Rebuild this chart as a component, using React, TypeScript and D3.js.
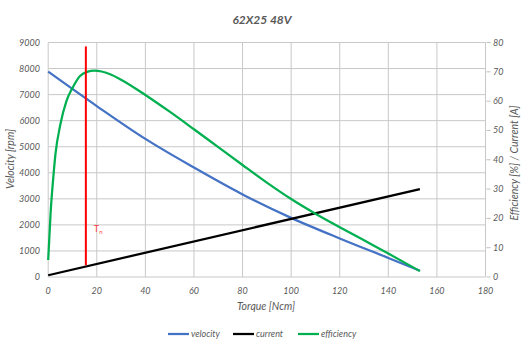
import React from "react";
import * as d3 from "d3";

const title = "62X25 48V";
const xTicks = [0, 20, 40, 60, 80, 100, 120, 140, 160, 180];
const yLeftTicks = [0, 1000, 2000, 3000, 4000, 5000, 6000, 7000, 8000, 9000];
const yRightTicks = [0, 10, 20, 30, 40, 50, 60, 70, 80];

const velocityTorque = [0, 20, 40, 60, 80, 100, 120, 140, 153];
const velocityValues = [7880, 6560, 5300, 4200, 3170, 2270, 1480, 730, 240];

const currentTorque = [0, 153];
const currentValues = [0.6, 30];

const efficiencyTorque = [0, 1, 2, 3, 5, 7.5, 10, 13, 16, 19, 22, 26, 30, 40, 50, 60, 70, 80, 90, 100, 110, 120, 130, 140, 153];
const efficiencyValues = [5.8, 22, 33, 42, 52, 60, 64.5, 68.5, 70, 70.4, 70.1, 69, 67.3, 62.1, 56.4, 50.4, 44.3, 38.2, 32.2, 26.6, 21.6, 17.0, 12.5, 8.0, 2.0];

const nominalTorque = 15.5;
const nominalRange = [450, 8850];

const legendNames = ["velocity", "current", "efficiency"];
const colors = { velocity: "#4472C4", current: "#000000", efficiency: "#00B050", nominal: "#FF0000" };

const W = 521, H = 340;
const left = 48.2, right = 485.5, top = 42.5, bottom = 277;
const textColor = "#595959";
const font = "Lato, 'Open Sans', sans-serif";

export default function App() {
  const x = d3.scaleLinear().domain([0, 180]).range([left, right]);
  const yL = d3.scaleLinear().domain([0, 9000]).range([bottom, top]);
  const yR = d3.scaleLinear().domain([0, 80]).range([bottom, top]);

  const lineL = d3.line<[number, number]>().x(d => x(d[0])).y(d => yL(d[1])).curve(d3.curveMonotoneX);
  const lineR = d3.line<[number, number]>().x(d => x(d[0])).y(d => yR(d[1])).curve(d3.curveMonotoneX);

  const vel = velocityTorque.map((t, i) => [t, velocityValues[i]] as [number, number]);
  const cur = currentTorque.map((t, i) => [t, currentValues[i]] as [number, number]);
  const eff = efficiencyTorque.map((t, i) => [t, efficiencyValues[i]] as [number, number]);

  const legendColors = [colors.velocity, colors.current, colors.efficiency];
  const legendX = [168, 233, 298];

  return (
    <svg width={W} height={H} style={{ position: "absolute", left: 0, top: 0, background: "#fff" }} fontFamily={font}>
      <rect x={0} y={0} width={W} height={H} fill="#fff" />
      <text x={262} y={24} textAnchor="middle" fontSize={12} fontWeight="bold" fontStyle="italic" fill={textColor}>{title}</text>
      {/* grid */}
      {yLeftTicks.map(t => (
        <line key={"h" + t} x1={left} x2={right} y1={yL(t)} y2={yL(t)} stroke="#C8C8C8" strokeWidth={1} />
      ))}
      {xTicks.map(t => (
        <line key={"v" + t} x1={x(t)} x2={x(t)} y1={top} y2={bottom} stroke="#C8C8C8" strokeWidth={1} />
      ))}
      {/* right ticks */}
      {yRightTicks.map(t => (
        <line key={"rt" + t} x1={right + 1} x2={right + 5} y1={yR(t)} y2={yR(t)} stroke="#BFBFBF" strokeWidth={1} />
      ))}
      {/* labels */}
      {yLeftTicks.map(t => (
        <text key={"yl" + t} x={40} y={yL(t) + 3} textAnchor="end" fontSize={9} fontStyle="italic" fill={textColor}>{t}</text>
      ))}
      {yRightTicks.map(t => (
        <text key={"yr" + t} x={493} y={yR(t) + 3} textAnchor="start" fontSize={9} fontStyle="italic" fill={textColor}>{t}</text>
      ))}
      {xTicks.map(t => (
        <text key={"xl" + t} x={x(t)} y={294} textAnchor="middle" fontSize={9} fontStyle="italic" fill={textColor}>{t}</text>
      ))}
      <text x={266} y={310} textAnchor="middle" fontSize={10.5} fontStyle="italic" fill={textColor}>Torque [Ncm]</text>
      <text transform={`translate(14,159) rotate(-90)`} textAnchor="middle" fontSize={10.5} fontStyle="italic" fill={textColor}>Velocity [rpm]</text>
      <text transform={`translate(518,163) rotate(-90)`} textAnchor="middle" fontSize={10.5} fontStyle="italic" fill={textColor}>Efficiency [%] / Current [A]</text>
      {/* series */}
      <path d={lineL(vel) || ""} fill="none" stroke={colors.velocity} strokeWidth={2.25} />
      <path d={lineR(cur) || ""} fill="none" stroke={colors.current} strokeWidth={2.25} />
      <path d={lineR(eff) || ""} fill="none" stroke={colors.efficiency} strokeWidth={2.25} />
      <line x1={x(nominalTorque)} x2={x(nominalTorque)} y1={yL(nominalRange[1])} y2={yL(nominalRange[0])} stroke={colors.nominal} strokeWidth={2} />
      <text x={x(nominalTorque) + 8} y={232} fontSize={9} fill="#FF4040">T<tspan fontSize={6} dy={2}>n</tspan></text>
      {/* legend */}
      {legendNames.map((n, i) => (
        <g key={n}>
          <line x1={legendX[i]} x2={legendX[i] + 21} y1={334} y2={334} stroke={legendColors[i]} strokeWidth={2.25} />
          <text x={legendX[i] + 23} y={337} fontSize={9} fontStyle="italic" fill={textColor}>{n}</text>
        </g>
      ))}
    </svg>
  );
}
